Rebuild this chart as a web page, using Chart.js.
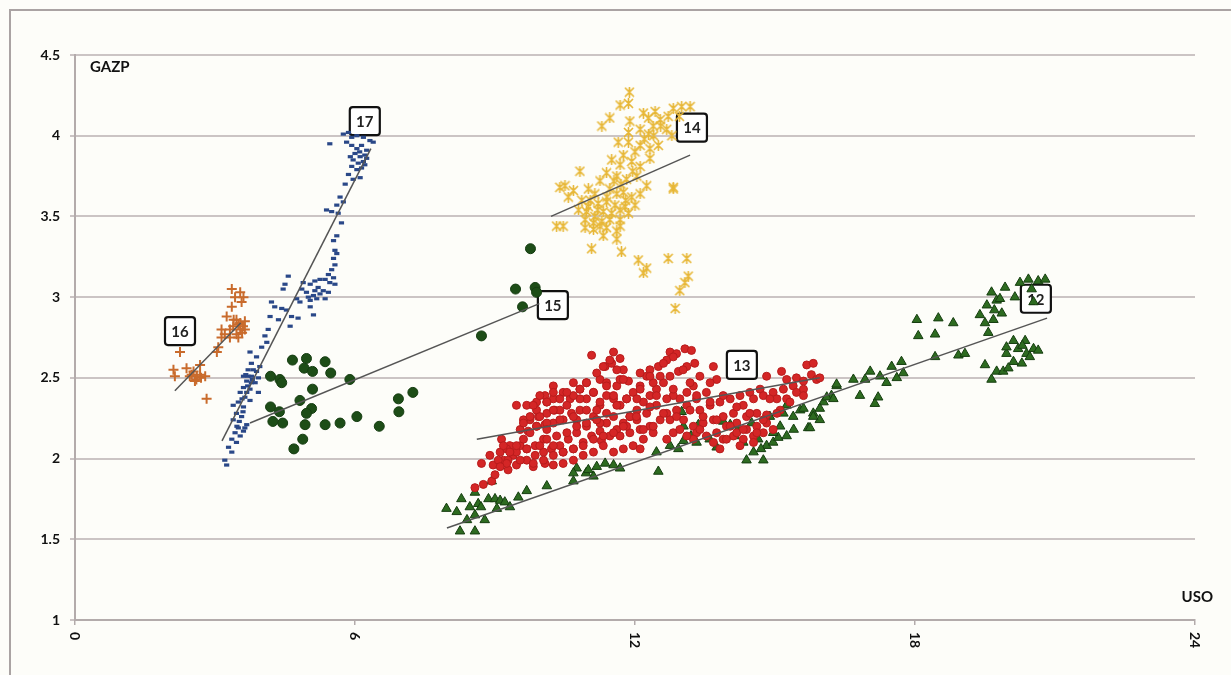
<!DOCTYPE html>
<html>
<head>
<meta charset="utf-8">
<script src="https://cdn.jsdelivr.net/npm/chart.js@4.4.1/dist/chart.umd.min.js"></script>
<style>
  html, body { margin: 0; padding: 0; background: #fdfdf9; }
  canvas { display: block; }
</style>
</head>
<body>
<canvas id="chart" width="1231" height="675"></canvas>
<script>
// axis ticks and titles
const xTicks = [0, 6, 12, 18, 24];
const yTicks = [1, 1.5, 2, 2.5, 3, 3.5, 4, 4.5];
const xTitle = 'USO';
const yTitle = 'GAZP';

// period labels (boxes) and where they sit
const periodNames = ['17', '14', '15', '16', '13', '12'];
const periodX = [6.21, 13.22, 10.24, 2.25, 14.29, 20.59];
const periodY = [4.09, 4.05, 2.95, 2.79, 2.58, 2.99];

// period 12 - triangles
const p12 = [[7.96,1.69],[8.18,1.67],[8.28,1.75],[8.46,1.70],[8.57,1.65],[8.64,1.72],[8.25,1.55],[8.57,1.55],
  [8.78,1.62],[8.86,1.75],[8.93,1.86],[8.57,1.79],[9.00,1.75],[9.11,1.74],[9.21,1.73],[9.32,1.70],[9.04,1.69],
  [9.68,1.80],[10.11,1.83],[10.68,1.86],[10.75,1.94],[10.95,1.91],[11.18,1.95],[11.36,1.97],[11.54,1.96],
  [11.68,1.94],[11.11,1.89],[10.68,1.91],[12.46,2.04],[12.50,1.92],[12.75,2.08],[12.93,2.06],[13.04,2.11],
  [13.00,2.29],[13.04,2.20],[13.32,2.10],[13.36,2.21],[13.75,2.07],[13.89,2.23],[14.04,2.21],[14.14,2.14],
  [14.32,2.10],[14.39,1.99],[14.54,2.04],[14.75,1.99],[14.64,2.12],[14.82,2.08],[14.96,2.10],[15.07,2.13],
  [15.11,2.20],[14.89,2.26],[15.18,2.28],[15.25,2.33],[15.39,2.26],[15.54,2.30],[15.71,2.19],[15.82,2.28],
  [16.04,2.35],[16.21,2.39],[16.32,2.45],[15.96,2.24],[14.96,2.16],[15.25,2.14],
  [15.61,2.31],[15.75,2.19],[15.82,2.26],[15.96,2.31],[16.11,2.38],[16.25,2.37],[16.32,2.46],[16.68,2.49],
  [16.82,2.39],[16.93,2.49],[17.04,2.54],[17.21,2.38],[17.14,2.34],[17.25,2.51],[17.39,2.47],[17.50,2.57],
  [17.61,2.50],[17.71,2.60],[17.75,2.53],[18.04,2.86],[18.07,2.76],[18.43,2.63],[18.43,2.77],[18.50,2.87],
  [18.82,2.84],[18.93,2.64],[19.07,2.65],[19.39,2.89],[19.54,2.95],[19.64,3.03],[19.75,2.98],[19.86,2.90],
  [19.50,2.84],[19.68,2.86],[19.57,2.78],[19.93,3.06],[19.50,2.58],[19.64,2.49],[19.75,2.54],[19.89,2.54],
  [19.96,2.65],[20.11,2.73],[20.21,2.68],[20.36,2.73],[20.39,2.65],[20.54,2.68],[20.64,2.67],[20.11,2.60],
  [20.29,2.59],[20.46,2.63],[20.14,3.00],[20.25,3.09],[20.43,3.11],[20.54,2.97],[20.64,3.10],[20.79,3.11],
  [19.82,2.99],[19.96,2.69],[8.40,1.62],[8.70,1.70],[9.50,1.76],[11.00,1.93],[13.20,2.14],[14.20,2.18],
  [14.50,2.22],[15.40,2.18],[14.70,2.06],[13.60,2.12],[20.00,2.56],[20.30,2.70],[19.70,2.92],[20.50,3.05]];

// period 13 - red dots
const p13 = [[8.57,1.82],[8.75,1.84],[8.93,1.86],[9.00,1.90],[8.71,1.97],[8.89,2.02],[9.11,2.04],[8.96,1.96],
  [9.28,1.93],[9.18,1.99],[9.39,2.02],[9.54,2.08],[9.32,2.08],[9.14,2.12],[9.46,2.33],[9.68,2.33],[9.89,2.35],
  [10.07,2.39],[10.25,2.37],[9.75,2.24],[9.93,2.26],[10.11,2.28],[10.28,2.30],[9.54,2.18],[9.71,2.17],
  [9.89,2.20],[10.07,2.21],[10.25,2.22],[10.46,2.24],[10.64,2.28],[10.82,2.30],[10.96,2.37],[11.11,2.41],
  [11.07,2.64],[11.25,2.49],[11.36,2.57],[11.50,2.59],[11.54,2.66],[11.68,2.62],[11.75,2.55],[11.86,2.48],
  [11.61,2.45],[11.39,2.39],[11.25,2.33],[11.11,2.26],[10.96,2.20],[10.75,2.16],[10.57,2.12],[10.39,2.08],
  [10.21,2.06],[10.04,2.04],[9.86,2.02],[9.68,1.99],[9.46,1.96],[9.82,1.95],[10.07,1.97],[10.25,1.96],
  [10.46,2.04],[10.68,2.06],[10.89,2.10],[11.07,2.14],[11.25,2.17],[11.39,2.22],[11.54,2.26],[11.68,2.33],
  [11.82,2.37],[11.96,2.41],[12.11,2.45],[12.25,2.51],[12.32,2.55],[12.50,2.57],[12.68,2.61],[12.75,2.66],
  [12.89,2.65],[13.07,2.68],[13.21,2.67],[13.28,2.59],[13.11,2.57],[12.93,2.54],[12.75,2.51],[12.61,2.47],
  [12.46,2.43],[12.32,2.39],[12.18,2.35],[12.04,2.30],[11.89,2.26],[11.75,2.22],[11.61,2.18],[11.46,2.14],
  [11.28,2.11],[11.68,2.14],[11.89,2.16],[12.11,2.18],[12.32,2.20],[12.54,2.24],[12.68,2.28],[12.89,2.30],
  [13.11,2.33],[13.32,2.37],[13.53,2.41],[13.68,2.57],[13.75,2.49],[13.61,2.47],[13.39,2.51],[13.25,2.45],
  [13.11,2.41],[12.96,2.37],[12.82,2.39],[12.68,2.37],[12.46,2.33],[12.25,2.28],[12.04,2.24],[11.82,2.20],
  [13.39,2.30],[13.61,2.33],[13.82,2.35],[14.04,2.37],[14.25,2.39],[14.46,2.41],[14.68,2.43],[14.82,2.51],
  [15.14,2.54],[15.25,2.49],[15.46,2.50],[15.68,2.58],[15.82,2.59],[15.78,2.52],[15.89,2.49],[15.61,2.48],
  [15.39,2.45],[15.18,2.43],[14.96,2.41],[14.75,2.39],[14.54,2.37],[14.32,2.33],[14.11,2.28],[13.89,2.26],
  [13.68,2.24],[13.46,2.22],[13.25,2.20],[13.32,2.16],[13.53,2.14],[13.75,2.16],[13.96,2.20],[14.18,2.22],
  [14.39,2.18],[14.61,2.20],[14.82,2.22],[14.96,2.18],[14.75,2.16],[14.54,2.14],[14.32,2.12],[14.11,2.14],
  [13.89,2.12],[13.68,2.10],[14.25,2.08],[14.54,2.10],[14.82,2.27],[15.11,2.30],[15.04,2.37],[12.75,2.24],
  [13.04,2.24],[12.82,2.16],[13.25,2.12],[12.96,2.18],[12.39,2.16],[12.18,2.12],[11.96,2.08],[11.75,2.06],
  [11.54,2.04],[11.32,2.08],[11.11,2.04],[10.89,2.02],[10.68,1.99],[10.46,1.97],[10.25,2.08],[10.04,2.12],
  [9.86,2.08],[9.68,2.06],[9.46,2.04],[9.25,2.06],[9.07,1.99],[9.28,1.99],[11.25,2.22],[11.54,2.37],
  [12.04,2.37],[12.11,2.53],[12.39,2.47],[12.54,2.51],[11.39,2.47],[11.68,2.49],[11.18,2.30],[10.75,2.24],
  [10.61,2.37],[10.39,2.30],[10.82,2.43],[10.68,2.47],[10.96,2.47],[10.46,2.41],[10.25,2.45],[10.11,2.35],
  [9.89,2.30],[9.61,2.24],[9.18,2.08],[12.68,2.12],[12.11,2.06],[12.39,2.20],[14.39,2.26],[14.61,2.28],
  [14.18,2.16],[13.96,2.12],[13.82,2.06],[14.89,2.37],[15.25,2.37],[15.46,2.41],[15.61,2.43],[15.96,2.50],
  [9.96,2.26],[10.11,2.22],[10.25,2.30],[10.39,2.24],[10.54,2.33],[10.68,2.26],[10.82,2.37],[10.96,2.30],
  [11.11,2.41],[11.25,2.35],[11.39,2.45],[11.54,2.39],[11.18,2.53],[11.32,2.57],[11.46,2.61],[11.61,2.55],
  [11.75,2.49],[10.96,2.47],[10.82,2.43],[10.68,2.39],[10.54,2.41],[10.39,2.37],[10.25,2.41],[10.11,2.35],
  [9.96,2.39],[9.82,2.33],[9.89,2.20],[9.75,2.16],[9.61,2.12],[9.46,2.08],[9.32,2.04],[9.68,2.06],
  [9.96,2.08],[10.11,2.12],[10.32,2.14],[10.54,2.16],[10.75,2.20],[10.96,2.22],[11.18,2.24],[11.39,2.28],
  [11.61,2.33],[11.82,2.37],[11.89,2.26],[11.75,2.20],[11.54,2.16],[11.32,2.14],[11.11,2.12],[10.89,2.08],
  [10.68,2.06],[10.46,2.04],[10.25,2.02],[10.04,1.99],[9.82,1.97],[9.54,1.99],[9.25,1.97],[9.11,1.95],
  [10.11,2.18],[9.75,2.26],[9.61,2.22],[12.61,2.59],[12.82,2.63],[13.03,2.55],[12.32,2.51],[12.11,2.43],
  [12.46,2.39],[12.82,2.43],[13.18,2.47],[13.32,2.39],[13.61,2.35],[13.89,2.39],[14.18,2.32],[14.46,2.28],
  [14.75,2.24],[15.04,2.28],[15.32,2.35],[15.61,2.39],[14.04,2.20],[14.32,2.18],[14.61,2.16],[13.75,2.24],
  [13.46,2.26],[13.18,2.30],[12.89,2.26],[12.61,2.28],[12.32,2.32],[12.03,2.26],[12.18,2.18],[13.11,2.14],
  [13.39,2.18]];

// period 14 - yellow stars
const p14 = [[11.88,4.27],[11.68,4.19],[11.86,4.20],[11.46,4.11],[11.29,4.06],[11.89,4.09],[12.18,4.14],
  [12.29,4.11],[12.43,4.15],[12.54,4.10],[12.71,4.12],[12.82,4.17],[13.00,4.18],[13.18,4.18],[12.39,4.06],
  [12.11,4.04],[11.86,4.02],[12.68,4.04],[12.79,4.00],[12.29,4.01],[11.64,3.96],[11.86,3.96],[12.11,3.94],
  [12.32,3.92],[12.50,3.94],[12.00,3.90],[11.75,3.88],[11.50,3.85],[11.68,3.82],[11.93,3.84],[12.11,3.81],
  [12.32,3.86],[11.39,3.77],[11.61,3.75],[10.82,3.78],[11.25,3.72],[11.82,3.73],[12.04,3.75],[12.25,3.69],
  [10.50,3.69],[10.68,3.66],[11.00,3.67],[11.14,3.64],[11.46,3.67],[11.61,3.64],[11.75,3.65],[11.93,3.62],
  [12.11,3.64],[12.82,3.67],[10.57,3.62],[10.86,3.60],[11.04,3.60],[11.21,3.58],[11.39,3.59],[11.57,3.57],
  [11.79,3.56],[12.00,3.57],[10.79,3.54],[10.96,3.53],[11.14,3.50],[11.32,3.53],[11.50,3.52],[11.68,3.54],
  [11.86,3.52],[10.93,3.48],[11.11,3.46],[11.29,3.47],[11.46,3.48],[11.68,3.48],[10.32,3.44],[10.46,3.44],
  [10.93,3.43],[11.11,3.42],[11.39,3.43],[11.61,3.41],[11.68,3.44],[11.32,3.38],[11.61,3.36],[11.07,3.30],
  [11.71,3.28],[12.07,3.23],[12.25,3.18],[12.18,3.15],[12.71,3.24],[13.11,3.24],[13.14,3.13],[13.07,3.09],
  [12.96,3.04],[12.86,2.93],[12.82,3.68],[10.39,3.68],[12.20,3.98],[12.40,4.00],[11.55,3.72],[11.70,3.70],
  [11.00,3.56],[11.25,3.44],[12.55,4.06],[12.95,4.12],[11.95,3.78],[11.40,3.62],[11.20,3.54],[11.80,3.60]];

// period 15 - dark green dots
const p15 = [[4.19,2.51],[4.39,2.49],[4.43,2.47],[4.66,2.61],[4.96,2.62],[4.91,2.56],[5.09,2.54],[5.36,2.60],
  [5.48,2.53],[5.89,2.49],[5.09,2.43],[4.19,2.32],[4.38,2.29],[4.82,2.36],[5.07,2.31],[4.96,2.28],[4.24,2.23],
  [4.45,2.22],[4.93,2.21],[5.36,2.21],[5.68,2.22],[6.04,2.26],[6.52,2.20],[6.93,2.37],[6.94,2.29],[7.24,2.41],
  [4.88,2.12],[4.69,2.06],[9.76,3.30],[9.44,3.05],[9.86,3.06],[9.89,3.03],[9.59,2.94],[8.71,2.76]];

// period 16 - orange crosses
const p16 = [[3.36,3.05],[3.54,3.03],[3.43,3.00],[3.61,3.00],[3.57,2.97],[3.36,2.94],[3.25,2.88],[3.46,2.86],
  [3.54,2.84],[3.64,2.85],[3.39,2.82],[3.32,2.80],[3.14,2.80],[3.21,2.77],[3.54,2.80],[3.64,2.80],[3.46,2.77],
  [3.14,2.75],[3.32,2.75],[3.07,2.69],[3.04,2.66],[2.25,2.66],[2.68,2.58],[2.39,2.56],[2.11,2.55],[2.54,2.54],
  [2.68,2.52],[2.46,2.51],[2.61,2.51],[2.79,2.51],[2.14,2.51],[2.57,2.48],[2.82,2.37],[3.50,2.83],[3.58,2.78],
  [3.40,2.86],[2.60,2.49],[2.70,2.50],[2.50,2.52],[3.50,2.75],[3.60,2.82]];

// period 17 - blue dashes
const p17 = [[5.46,3.95],[5.75,4.01],[5.86,4.02],[5.93,3.99],[6.04,4.00],[6.18,3.99],[6.32,3.97],[6.39,3.96],
  [5.82,3.96],[5.93,3.94],[6.04,3.92],[6.14,3.94],[6.25,3.91],[6.00,3.89],[6.11,3.87],[6.21,3.88],[5.96,3.85],
  [6.07,3.83],[6.18,3.84],[6.25,3.86],[5.93,3.81],[6.04,3.79],[6.14,3.80],[6.21,3.82],[5.86,3.76],[6.11,3.74],
  [5.96,3.73],[5.79,3.70],[5.68,3.62],[5.75,3.59],[5.61,3.57],[5.39,3.54],[5.50,3.53],[5.64,3.52],[5.71,3.46],
  [5.61,3.38],[5.54,3.35],[5.57,3.29],[5.61,3.27],[5.54,3.24],[5.57,3.20],[5.50,3.17],[5.43,3.14],[5.54,3.12],
  [5.36,3.11],[5.25,3.11],[5.57,3.08],[5.46,3.09],[5.14,3.10],[5.04,3.08],[4.89,3.09],[5.21,3.06],[5.14,3.04],
  [5.32,3.04],[5.43,3.03],[5.11,3.01],[5.18,2.99],[5.36,2.99],[5.04,2.98],[4.96,3.03],[4.86,3.05],[4.75,2.99],
  [4.82,2.97],[5.04,2.94],[5.11,2.89],[4.57,3.13],[4.50,3.08],[4.46,3.05],[4.21,2.97],[4.28,2.94],[4.43,2.93],
  [4.53,2.92],[4.18,2.88],[4.36,2.86],[4.64,2.88],[4.61,2.82],[4.78,2.87],[4.14,2.80],[4.07,2.76],[4.11,2.72],
  [4.00,2.69],[3.75,2.66],[3.89,2.63],[3.78,2.59],[3.96,2.57],[3.71,2.55],[3.89,2.54],[3.78,2.51],[3.93,2.50],
  [3.68,2.48],[3.86,2.47],[3.61,2.44],[3.75,2.43],[3.93,2.41],[3.54,2.41],[3.64,2.38],[3.75,2.36],[3.50,2.35],
  [3.39,2.33],[3.61,2.32],[3.46,2.28],[3.57,2.26],[3.39,2.24],[3.68,2.21],[3.50,2.19],[3.61,2.17],[3.43,2.16],
  [3.54,2.14],[3.36,2.12],[3.64,2.19],[3.46,2.10],[3.29,2.07],[3.36,2.04],[3.21,1.99],[3.25,1.96],[3.71,2.51],
  [3.82,2.55],[3.61,2.51],[3.78,2.47],[3.68,2.41],[3.70,2.45],[3.66,2.52],[3.80,2.49],[3.58,2.37],[3.52,2.23],
  [3.47,2.20],[3.60,2.29],[5.00,3.00],[5.25,3.02],[6.10,3.90],[5.90,3.87]];

// linear trends, start and end of each
const trend12 = [[7.97,1.57],[20.83,2.87]];
const trend13 = [[8.61,2.12],[15.96,2.50]];
const trend14 = [[10.20,3.50],[13.18,3.88]];
const trend15 = [[3.75,2.22],[9.95,2.96]];
const trend16 = [[2.14,2.42],[3.55,2.84]];
const trend17 = [[3.15,2.11],[6.34,3.92]];

const toPts = arr => arr.map(p => ({ x: p[0], y: p[1] }));

// excel-like star marker: an x with a vertical stroke through it
function starMarker(color) {
  const c = document.createElement('canvas');
  c.width = 11; c.height = 11;
  const g = c.getContext('2d');
  g.strokeStyle = color;
  g.lineWidth = 1.7;
  g.lineCap = 'round';
  g.beginPath();
  g.moveTo(1.5, 1.5); g.lineTo(9.5, 9.5);
  g.moveTo(9.5, 1.5); g.lineTo(1.5, 9.5);
  g.moveTo(5.5, 0.8); g.lineTo(5.5, 10.2);
  g.stroke();
  return c;
}

function trendSet(arr) {
  return {
    type: 'line', data: toPts(arr), borderColor: '#555', borderWidth: 1.5,
    pointRadius: 0, showLine: true, fill: false, order: 0
  };
}

const decor = {
  id: 'decor',
  beforeDraw(chart) {
    const c = chart.ctx;
    c.save();
    c.fillStyle = '#fdfdf9';
    c.fillRect(0, 0, chart.width, chart.height);
    c.strokeStyle = '#aaa3a3';
    c.lineWidth = 2;
    c.strokeRect(10, 10, chart.width + 20, chart.height + 20);
    c.restore();
  },
  beforeDatasetsDraw(chart) {
    const c = chart.ctx, xs = chart.scales.x, ys = chart.scales.y;
    c.save();
    c.font = 'bold 15px Lato';
    c.textAlign = 'center';
    c.textBaseline = 'middle';
    periodNames.forEach((name, i) => {
      const px = xs.getPixelForValue(periodX[i]);
      const py = ys.getPixelForValue(periodY[i]);
      c.beginPath();
      c.roundRect(px - 15, py - 14, 30, 28, 3);
      c.fillStyle = '#fff';
      c.fill();
      c.lineWidth = 2.2;
      c.strokeStyle = '#111';
      c.stroke();
      c.fillStyle = '#222';
      c.fillText(name, px, py + 1);
    });
    c.restore();
  },
  afterDraw(chart) {
    const c = chart.ctx, xs = chart.scales.x, ys = chart.scales.y, a = chart.chartArea;
    c.save();
    c.fillStyle = '#111';
    c.font = 'bold 14px Lato';
    c.textAlign = 'right';
    c.textBaseline = 'middle';
    yTicks.forEach(v => c.fillText(String(v), a.left - 15, ys.getPixelForValue(v)));
    c.textAlign = 'left';
    xTicks.forEach(v => {
      c.save();
      c.translate(xs.getPixelForValue(v), a.bottom + 12);
      c.rotate(Math.PI / 2);
      c.fillText(String(v), 0, 0);
      c.restore();
    });
    c.font = 'bold 15px Lato';
    c.textBaseline = 'alphabetic';
    c.fillText(yTitle, a.left + 15, a.top + 17);
    c.textAlign = 'right';
    c.fillText(xTitle, a.right + 18, a.bottom - 18);
    c.restore();
  }
};

new Chart(document.getElementById('chart'), {
  type: 'scatter',
  data: {
    datasets: [
      trendSet(trend12), trendSet(trend13), trendSet(trend14),
      trendSet(trend15), trendSet(trend16), trendSet(trend17),
      { label: '13', data: toPts(p13), pointStyle: 'circle', pointRadius: 4,
        backgroundColor: '#d42626', borderColor: '#b81c1c', borderWidth: 1, order: 2 },
      { label: '12', data: toPts(p12), pointStyle: 'triangle', pointRadius: 5.5,
        backgroundColor: '#2d6b20', borderColor: '#153d0f', borderWidth: 1, order: 3 },
      { label: '14', data: toPts(p14), pointStyle: starMarker('#e7b737'), pointRadius: 6,
        backgroundColor: '#e7b737', borderColor: '#e7b737', order: 1 },
      { label: '15', data: toPts(p15), pointStyle: 'circle', pointRadius: 5,
        backgroundColor: '#1d4d17', borderColor: '#163d12', borderWidth: 1, order: 1 },
      { label: '16', data: toPts(p16), pointStyle: 'cross', pointRadius: 5,
        backgroundColor: '#c96b2c', borderColor: '#c96b2c', borderWidth: 2, order: 1 },
      { label: '17', data: toPts(p17), pointStyle: 'line', pointRadius: 2.6,
        backgroundColor: '#2a4888', borderColor: '#2a4888', borderWidth: 3.2, order: 1 }
    ]
  },
  options: {
    responsive: false,
    animation: false,
    devicePixelRatio: 1,
    layout: { padding: { left: 0, top: 55, right: 36, bottom: 0 } },
    plugins: { legend: { display: false }, tooltip: { enabled: false } },
    scales: {
      x: {
        type: 'linear', min: 0, max: 24,
        ticks: { stepSize: 6, display: false },
        grid: { drawOnChartArea: false, drawTicks: true, tickLength: 5, color: '#b3abab', lineWidth: 1.5 },
        border: { display: true, color: '#b3abab', width: 2 },
        afterFit(scale) { scale.height = 55; }
      },
      y: {
        type: 'linear', min: 1, max: 4.5,
        ticks: { stepSize: 0.5, display: false },
        grid: { color: '#cbc4c4', lineWidth: 2, drawTicks: true, tickLength: 5 },
        border: { display: true, color: '#b3abab', width: 2 },
        afterFit(scale) { scale.width = 75; }
      }
    }
  },
  plugins: [decor]
});
</script>
</body>
</html>
